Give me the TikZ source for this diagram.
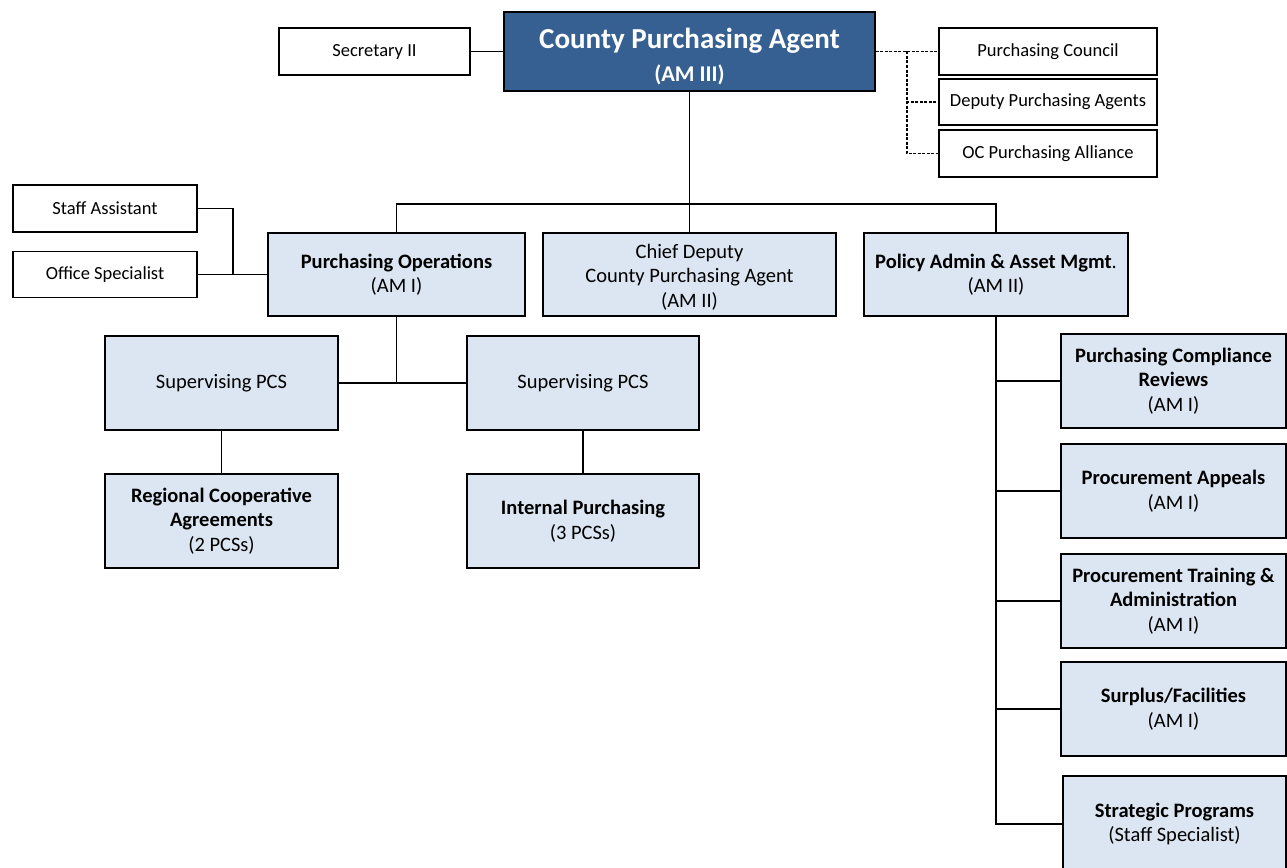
\documentclass[tikz,border=0pt]{standalone}
\usepackage{fontspec}
\setmainfont{Carlito}
\definecolor{darkbox}{HTML}{376092}
\definecolor{lightbox}{HTML}{DCE6F2}
\begin{document}
\begin{tikzpicture}[x=1pt,y=-1pt,
  box/.style={draw=black, line width=1.6pt, inner sep=0pt, align=center},
  wbox/.style={box, fill=white, font=\fontsize{18.5}{22}\selectfont},
  bbox/.style={box, fill=lightbox, font=\fontsize{20.5}{24.5}\selectfont},
  topbox/.style={box, fill=darkbox, text=white, font=\fontsize{29}{33}\selectfont\bfseries},
  conn/.style={line width=1.3pt},
  dconn/.style={line width=1.1pt, dash pattern=on 3pt off 1.5pt}]
\useasboundingbox (0,0) rectangle (1287,867);
\clip (0,0) rectangle (1287,867);
\fill[white] (0,0) rectangle (1287,867);

% top row
\node[wbox, minimum width=191pt, minimum height=47pt] (sec) at (374.5,51.5) {Secretary II};
\node[topbox, minimum width=371pt, minimum height=79pt] (cpa) at (689.5,51.5)
  {\rule{0pt}{31pt}County Purchasing Agent\\{\fontsize{22.5}{27}\selectfont (AM III)}};
\node[wbox, minimum width=218pt, minimum height=47pt] (pc) at (1048,51.5) {Purchasing Council};
\node[wbox, minimum width=218pt, minimum height=46pt] (dpa) at (1048,102) {Deputy Purchasing Agents};
\node[wbox, minimum width=218pt, minimum height=47pt] (oca) at (1048,153.5) {OC Purchasing Alliance};

% second row
\node[wbox, minimum width=184pt, minimum height=47pt] (sa) at (105,208.5) {Staff Assistant};
\node[wbox, minimum width=184pt, minimum height=46pt] (os) at (105,274.5) {Office Specialist};
\node[bbox, minimum width=257pt, minimum height=83pt] (po) at (396.5,274.5) {\textbf{Purchasing Operations}\\(AM I)};
\node[bbox, minimum width=293pt, minimum height=83pt] (cd) at (689.5,274.5) {\rule{0pt}{19pt}Chief Deputy\\County Purchasing Agent\\(AM II)};
\node[bbox, minimum width=264pt, minimum height=83pt] (pa) at (996,274.5) {\textbf{Policy Admin \& Asset Mgmt}.\\(AM II)};

% left lower
\node[bbox, minimum width=233pt, minimum height=94pt] (sp1) at (221.5,383) {Supervising PCS};
\node[bbox, minimum width=232pt, minimum height=94pt] (sp2) at (583,383) {Supervising PCS};
\node[bbox, minimum width=233pt, minimum height=94pt] (rca) at (221.5,521) {\textbf{Regional Cooperative}\\\textbf{Agreements}\\(2 PCSs)};
\node[bbox, minimum width=232pt, minimum height=94pt] (ip) at (583,521) {\textbf{Internal Purchasing}\\(3 PCSs)};

% right column
\node[bbox, minimum width=225pt, minimum height=94pt] (pcr) at (1173.5,381) {\textbf{Purchasing Compliance}\\\textbf{Reviews}\\(AM I)};
\node[bbox, minimum width=225pt, minimum height=94pt] (pap) at (1173.5,491) {\textbf{Procurement Appeals}\\(AM I)};
\node[bbox, minimum width=225pt, minimum height=94pt] (pta) at (1173.5,601) {\textbf{Procurement Training \&}\\\textbf{Administration}\\(AM I)};
\node[bbox, minimum width=225pt, minimum height=94pt] (sf) at (1173.5,709) {\textbf{Surplus/Facilities}\\(AM I)};
\node[bbox, minimum width=223pt, minimum height=96pt] (stp) at (1174.5,824) {\textbf{Strategic Programs}\\(Staff Specialist)};

% junction coordinates
\coordinate (dj) at (907,51.5);
\coordinate (bus) at (689.5,204);
\coordinate (sj) at (233,274.5);
\coordinate (pj) at (396.5,383);

% connectors
\draw[conn] (sec.east) -- (cpa.west);
\draw[dconn] (cpa.east) -- (pc.west);
\draw[dconn] (dj) |- (dpa.west);
\draw[dconn] (dj) |- (oca.west);

\draw[conn] (cpa.south) -- (cd.north);
\draw[conn] (po.north) |- (bus) -| (pa.north);
\draw[conn] (sa.east) -| (sj);
\draw[conn] (os.east) -- (po.west);

\draw[conn] (po.south) -- (pj);
\draw[conn] (sp1.east) -- (sp2.west);
\draw[conn] (sp1.south) -- (rca.north);
\draw[conn] (sp2.south) -- (ip.north);

\draw[conn] (pa.south) |- (stp.west);
\draw[conn] (pcr.west) -- (pcr.west -| pa.south);
\draw[conn] (pap.west) -- (pap.west -| pa.south);
\draw[conn] (pta.west) -- (pta.west -| pa.south);
\draw[conn] (sf.west) -- (sf.west -| pa.south);
\end{tikzpicture}
\end{document}
